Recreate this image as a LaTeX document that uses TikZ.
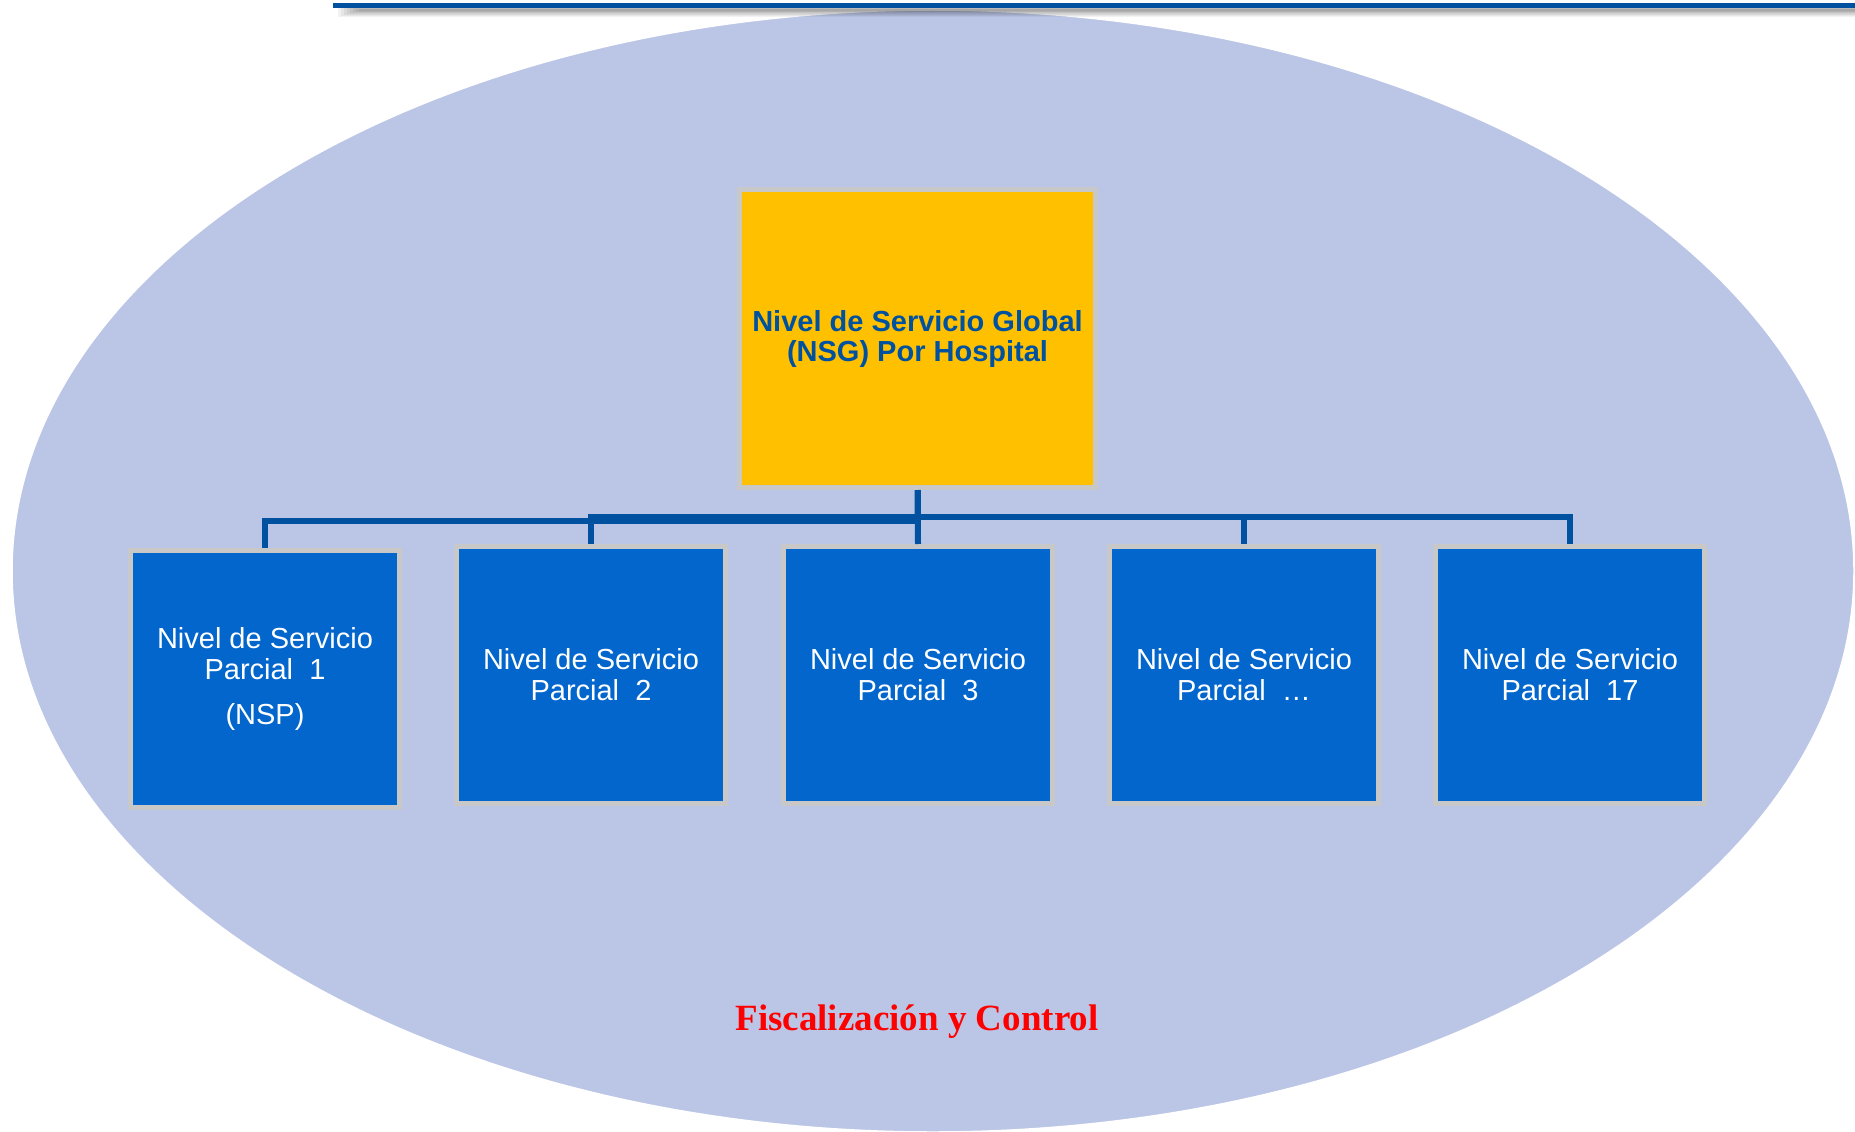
\documentclass[tikz,border=0pt]{standalone}
\usepackage{fontspec}
\setmainfont{Liberation Sans}
\newfontfamily\serifbold{Liberation Serif}
\definecolor{ovalfill}{RGB}{187,198,230}
\definecolor{boxblue}{RGB}{2,102,204}
\definecolor{boxedge}{RGB}{200,200,200}
\definecolor{gold}{RGB}{255,192,0}
\definecolor{navy}{RGB}{0,82,160}
\definecolor{alertred}{RGB}{255,0,0}
\tikzset{
  childbox/.style={draw=boxedge, line width=5pt, fill=boxblue, text=white,
    minimum width=269pt, minimum height=257pt, inner sep=0pt, align=center,
    font=\fontsize{29}{31}\selectfont},
  rootbox/.style={draw=boxedge, line width=5pt, fill=gold, text=navy,
    minimum width=356pt, minimum height=298pt, inner sep=0pt, align=center,
    font=\fontsize{29}{30}\selectfont\bfseries},
  conn/.style={draw=navy, line width=6pt, line join=miter}
}
\begin{document}
\begin{tikzpicture}[x=1pt,y=-1pt]
\useasboundingbox (0,0) rectangle (1855,1132);
\clip (0,0) rectangle (1855,1132);

% background oval
\fill[ovalfill] (933,571) ellipse [x radius=921, y radius=561];
\draw[white, line width=1.5pt] (933,571) ellipse [x radius=921, y radius=561];

% header rule with its soft shadow
\foreach \k in {0,...,7} {
  \fill[black, opacity=0.05] (338+\k*3,7+\k*0.3) rectangle (1855,17-\k*0.9);
}
\fill[navy] (333,3) rectangle (1855,8);

% chart nodes
\node[rootbox] (g) at (917.5,338.5) {Nivel de Servicio Global\\(NSG) Por Hospital};
\node[childbox] (p1) at (265,679) {Nivel de Servicio\\Parcial~~1\\[14pt](NSP)};
\node[childbox] (p2) at (591,675) {Nivel de Servicio\\Parcial~~2};
\node[childbox] (p3) at (918,675) {Nivel de Servicio\\Parcial~~3};
\node[childbox] (p4) at (1244,675) {Nivel de Servicio\\Parcial~~…};
\node[childbox] (p5) at (1570,675) {Nivel de Servicio\\Parcial~~17};

% connectors
\draw[conn] (g.south) -- ++(0,30.5) -| (p1.north);
\draw[conn] (g.south) -- ++(0,26.5) -| (p2.north);
\draw[conn] (g.south) -- (p3.north);
\draw[conn] (g.south) -- ++(0,26.5) -| (p4.north);
\draw[conn] (g.south) -- ++(0,26.5) -| (p5.north);

% caption
\node[text=alertred, font=\serifbold\bfseries\fontsize{37}{40}\selectfont, anchor=base] (cap) at (917,1030) {Fiscalización y Control};
\end{tikzpicture}
\end{document}
